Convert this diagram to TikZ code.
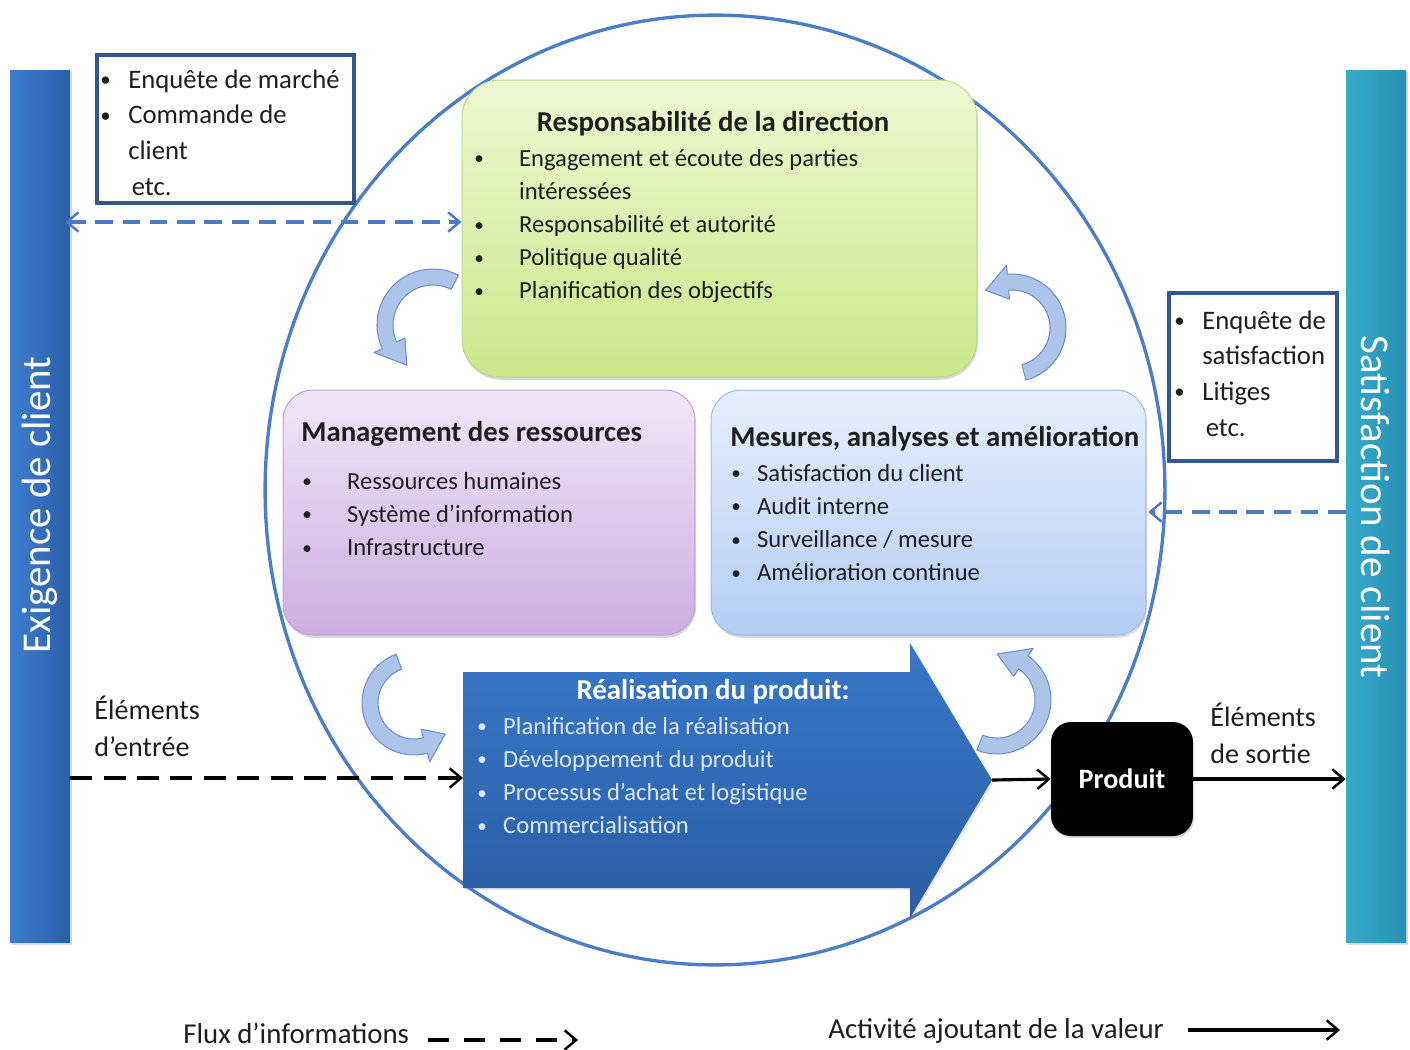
\documentclass[tikz,border=0pt]{standalone}
\usepackage{fontspec}
\setmainfont{Carlito}
\usetikzlibrary{arrows.meta,shadows,shapes.geometric}
\definecolor{txtc}{HTML}{1E1E1E}
\definecolor{barLa}{HTML}{3D7ED0}
\definecolor{barLb}{HTML}{2A5EA8}
\definecolor{barRa}{HTML}{38AACB}
\definecolor{barRb}{HTML}{2790B2}
\definecolor{ellc}{HTML}{4A7ECB}
\definecolor{infob}{HTML}{33598A}
\definecolor{dashb}{HTML}{4A7CC4}
\definecolor{grna}{HTML}{EEF8D2}
\definecolor{grnb}{HTML}{C9E98A}
\definecolor{grnd}{HTML}{BFD98E}
\definecolor{purpa}{HTML}{F1E6F8}
\definecolor{purpb}{HTML}{CDAEE2}
\definecolor{purpd}{HTML}{C2A3D8}
\definecolor{bluea}{HTML}{E6EFFD}
\definecolor{blueb}{HTML}{B4CDF4}
\definecolor{blued}{HTML}{9FBCE8}
\definecolor{arra}{HTML}{3878C8}
\definecolor{arrb}{HTML}{2A5DA4}
\definecolor{reallist}{HTML}{DCE6F3}
\definecolor{bentf}{HTML}{ADC4EA}
\definecolor{bentd}{HTML}{6F8FC8}
% bent arrow: cx, cy, R, half band, tail angle, head base angle, tip angle, head half width
\newcommand{\bentarrow}[8]{%
  \filldraw[bentstyle] plot[domain=#5:#6, samples=30] ({#1+(#3+#4)*cos(\x)},{#2+(#3+#4)*sin(\x)})
   -- ({#1+(#3+#8)*cos(#6)},{#2+(#3+#8)*sin(#6)})
   -- ({#1+#3*cos(#7)},{#2+#3*sin(#7)})
   -- ({#1+(#3-#8)*cos(#6)},{#2+(#3-#8)*sin(#6)})
   -- plot[domain=#6:#5, samples=30] ({#1+(#3-#4)*cos(\x)},{#2+(#3-#4)*sin(\x)}) -- cycle;}
\newcommand{\blist}[2]{\begin{tabular}[t]{@{}p{#1}@{}l@{}}#2\end{tabular}}
\newcommand{\bul}{\raisebox{0.8pt}{\scalebox{0.78}{\textbullet}}}
\begin{document}
\begin{tikzpicture}[x=0.02cm, y=-0.02cm,
  >={Straight Barb[length=6.5pt, width=11pt, line width=1.4pt]},
  bar/.style={minimum width=1.2cm, minimum height=17.46cm, inner sep=0pt, draw=none},
  bartext/.style={font=\fontsize{23.3}{26}\selectfont, text=white, inner sep=0pt},
  infobox/.style={draw=infob, line width=2pt, fill=white, inner sep=0pt},
  procbox/.style={inner sep=0pt, line width=0.6pt, drop shadow={shadow xshift=0.6pt, shadow yshift=-1.6pt, opacity=0.3}},
  bodytxt/.style={font=\fontsize{14}{18.9}\selectfont, text=txtc, inner sep=0pt, anchor=base west},
  infotxt/.style={font=\fontsize{15.2}{20.3}\selectfont, text=txtc, inner sep=0pt, anchor=base west},
  titletxt/.style={font=\fontsize{16.4}{20}\selectfont\bfseries, text=txtc, inner sep=0pt},
  labeltxt/.style={font=\fontsize{16}{21.5}\selectfont, text=txtc, inner sep=0pt, anchor=base west},
  bluedash/.style={draw=dashb, line width=1.8pt, dash pattern=on 10pt off 5.5pt},
  blackdash/.style={draw=black, line width=2pt, dash pattern=on 12.5pt off 6.5pt},
  solidarrow/.style={draw=black, line width=1.8pt},
  bentstyle/.style={fill=bentf, draw=bentd, line width=0.6pt, line join=round}
]
\useasboundingbox (0,0) rectangle (1410,1049);
\fill[white] (0,0) rectangle (1410,1049);

% side bars
\node[bar, left color=barLa, right color=barLb, drop shadow={shadow xshift=1pt, shadow yshift=-1pt, opacity=0.3}] (leftbar) at (40,506.5) {};
\node[bartext, rotate=90] (lefttxt) at (40,505) {Exigence de client};
\node[bar, left color=barRa, right color=barRb, drop shadow={shadow xshift=1pt, shadow yshift=-1pt, opacity=0.3}] (rightbar) at (1376,506.5) {};
\node[bartext, rotate=-90] (righttxt) at (1376,507) {Satisfaction de client};

% big ellipse
\node[draw=ellc, line width=1.9pt, ellipse, minimum width=18cm, minimum height=19cm, inner sep=0pt] (ell) at (715,490) {};

% info boxes
\node[infobox, minimum width=5.14cm, minimum height=2.96cm] (infoL) at (225.5,129) {};
\node[infotxt] (infoLtxt) at (100,88) {\blist{15.9pt}{\bul & Enquête de marché\\ \bul & Commande de\\ & client\\ & \hspace{2pt}etc.}};
\node[infobox, minimum width=3.36cm, minimum height=3.36cm] (infoR) at (1253,377) {};
\node[infotxt] (infoRtxt) at (1174,329) {\blist{15.9pt}{\bul & Enquête de\\ & satisfaction\\ \bul & Litiges\\ & \hspace{2pt}etc.}};

% curved arrows
\bentarrow{433}{325}{48}{8}{-63}{-205}{-237}{17}
\bentarrow{1012}{328}{46}{8}{75}{-95}{-125}{17}
\bentarrow{414}{703}{44}{8}{250}{75}{45}{17}
\bentarrow{997}{700}{46}{8}{112}{-55}{-90}{17}

% green box
\node[procbox, rounded corners=0.75cm, top color=grna, bottom color=grnb, draw=grnd, minimum width=10.3cm, minimum height=5.94cm] (green) at (719.5,228.5) {};
\node[titletxt, anchor=base] (greentitle) at (713,131) {Responsabilité de la direction};
\node[bodytxt] (greenlist) at (474,166) {\blist{25.5pt}{\bul & Engagement et écoute des parties\\ & intéressées\\ \bul & Responsabilité et autorité\\ \bul & Politique qualité\\ \bul & Planification des objectifs}};

% purple box
\node[procbox, rounded corners=0.6cm, top color=purpa, bottom color=purpb, draw=purpd, minimum width=8.24cm, minimum height=4.9cm] (purple) at (489,512.5) {};
\node[titletxt, anchor=base west] (purpletitle) at (301,441) {Management des ressources};
\node[bodytxt] (purplelist) at (302,489) {\blist{25.5pt}{\bul & Ressources humaines\\ \bul & Système d’information\\ \bul & Infrastructure}};

% blue box
\node[procbox, rounded corners=0.6cm, top color=bluea, bottom color=blueb, draw=blued, minimum width=8.7cm, minimum height=4.9cm] (blue) at (928.5,512.5) {};
\node[titletxt, anchor=base west] (bluetitle) at (730,446) {Mesures, analyses et amélioration};
\node[bodytxt] (bluelist) at (731,481) {\blist{14.7pt}{\bul & Satisfaction du client\\ \bul & Audit interne\\ \bul & Surveillance / mesure\\ \bul & Amélioration continue}};

% big arrow
\path[top color=arra, bottom color=arrb, drop shadow={shadow xshift=0.8pt, shadow yshift=-1.2pt, opacity=0.2}]
  (463,672) -- (910,672) -- (910,643) -- (992,780) -- (910,918) -- (910,888) -- (463,888) -- cycle;
\coordinate (realin) at (463,778);
\coordinate (realtip) at (992,780);
\node[titletxt, text=white, anchor=base] (realtitle) at (713,699) {Réalisation du produit:};
\node[bodytxt, text=reallist] (reallistnode) at (477,734) {\blist{14.7pt}{\bul & Planification de la réalisation\\ \bul & Développement du produit\\ \bul & Processus d’achat et logistique\\ \bul & Commercialisation}};

% produit
\node[fill=black, rounded corners=0.4cm, minimum width=2.84cm, minimum height=2.28cm, inner sep=0pt, font=\fontsize{16}{20}\selectfont\bfseries, text=white, drop shadow={shadow xshift=0.6pt, shadow yshift=-1.2pt, opacity=0.3}] (produit) at (1122,779) {Produit};

% labels
\node[labeltxt] (entree) at (94,719) {\begin{tabular}[t]{@{}l@{}}Éléments\\ d’entrée\end{tabular}};
\node[labeltxt] (sortie) at (1210,726) {\begin{tabular}[t]{@{}l@{}}Éléments\\ de sortie\end{tabular}};

% connectors
\draw[bluedash, <->] ([xshift=-3pt]leftbar.east |- 0,222) -- (green.west |- 0,222);
\draw[bluedash, ->] (rightbar.west |- 0,512) -- ([xshift=1pt]blue.east |- 0,512);
\draw[blackdash, ->] (leftbar.east |- realin) -- (realin);
\draw[solidarrow, ->] (realtip) -- (produit.west);
\draw[solidarrow, ->] (produit.east) -- (rightbar.west |- produit.east);

% legend
\node[labeltxt, font=\fontsize{16.4}{20}\selectfont] (leg1) at (183,1043) {Flux d’informations};
\coordinate (leg1end) at (578,1040);
\draw[blackdash, line width=2.4pt, dash pattern=on 12pt off 8.5pt, ->] (428,1040) -- (leg1end);
\node[labeltxt, font=\fontsize{16.4}{20}\selectfont] (leg2) at (828,1038) {Activité ajoutant de la valeur};
\coordinate (leg2end) at (1340,1030);
\draw[solidarrow, line width=2.2pt, ->] (1188,1030) -- (leg2end);
\end{tikzpicture}
\end{document}
